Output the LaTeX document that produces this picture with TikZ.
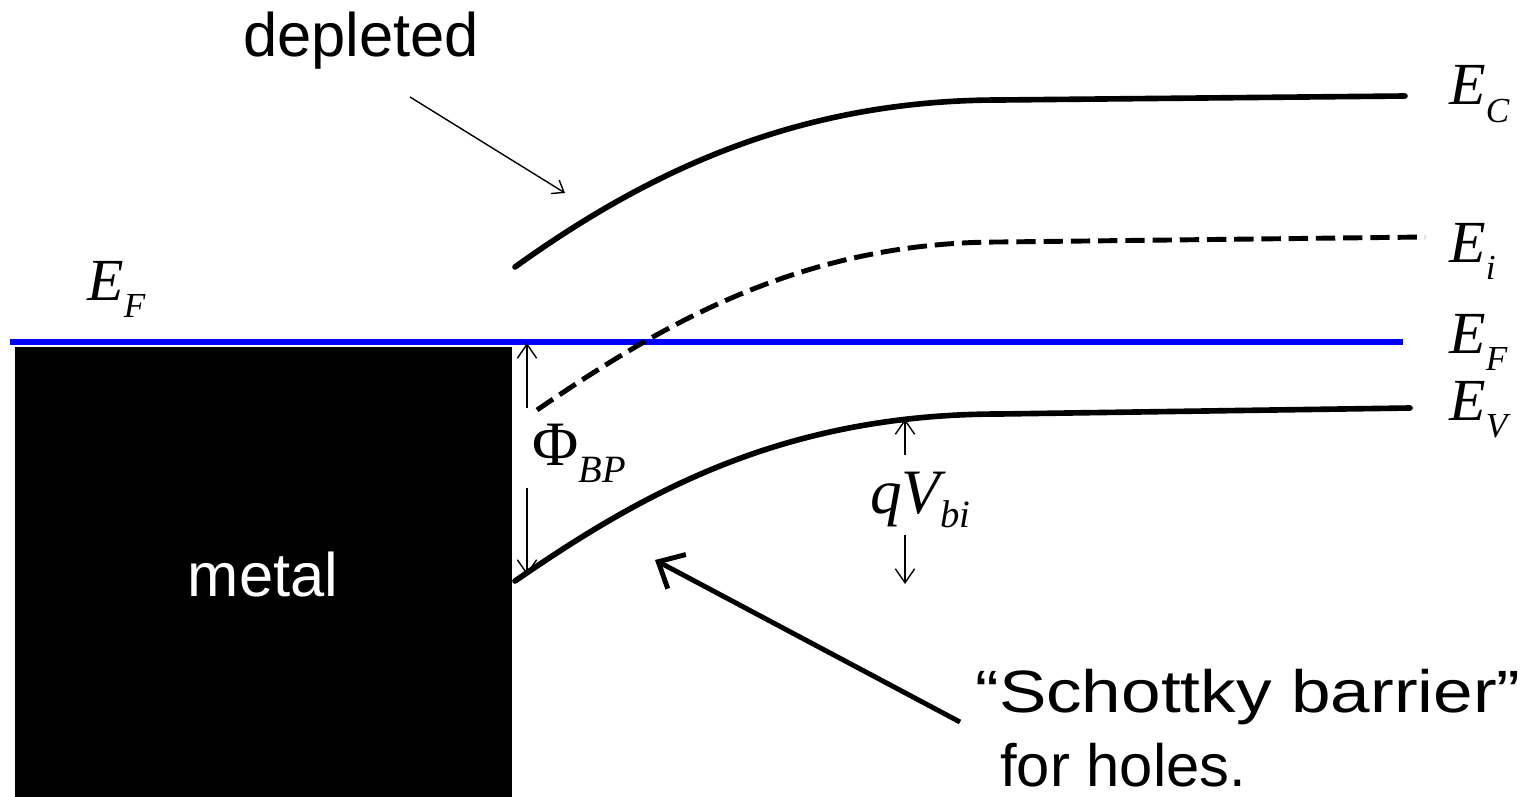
\documentclass[tikz,border=0pt]{standalone}
\usepackage{fontspec}
\usepackage{graphicx}
\setmainfont{Liberation Serif}
\newfontfamily\arialfont{Liberation Sans}
\usetikzlibrary{arrows.meta}
\newcommand{\elab}[2]{{\fontsize{34}{34}\selectfont\itshape #1\raisebox{-10pt}{\fontsize{20}{20}\selectfont #2}}}
\tikzset{
  band/.style={line width=3.2pt, line cap=round, line join=round},
  thinarrow/.style={line width=0.8pt, -{Straight Barb[length=8pt,width=11pt,line width=0.8pt]}},
  deparrow/.style={line width=0.8pt, -{Straight Barb[length=6pt,width=9pt,line width=0.8pt]}},
  thickarrow/.style={line width=2.8pt, -{Straight Barb[length=12pt,width=22pt,line width=2.8pt]}},
  sanslbl/.style={font=\arialfont\fontsize{35}{40}\selectfont, inner sep=0pt},
  schlbl/.style={font=\arialfont\fontsize{34}{40}\selectfont, inner sep=0pt},
}
\begin{document}
\begin{tikzpicture}[x=0.02cm,y=-0.02cm]
\useasboundingbox (0,0) rectangle (1520,797);
% metal
\fill[black] (15,347) rectangle (512,797);
\node[sanslbl, text=white, anchor=base] (metal) at (263,596) {metal};
% Fermi level
\draw[blue, line width=3pt] (10,342) -- (1403,342);
% bands
\draw[band] (515,267) .. controls (650,170) and (800,100) .. (1000,100) -- (1405,96);
\draw[band, line width=2.8pt, dash pattern=on 11pt off 4.5pt, line cap=butt] (537,410) .. controls (660,326) and (800,242) .. (1000,242) -- (1425,237);
\draw[band] (515,581) .. controls (640,495) and (780,414) .. (1000,414) -- (1410,408);
% labels on right
\node[anchor=base west, inner sep=0pt] (ec) at (1449,105) {\elab{E}{C}};
\node[anchor=base west, inner sep=0pt] (ei) at (1449,262) {\elab{E}{i}};
\node[anchor=base west, inner sep=0pt] (ef) at (1449,353) {\elab{E}{F}};
\node[anchor=base west, inner sep=0pt] (ev) at (1449,420) {\elab{E}{V}};
\node[anchor=base west, inner sep=0pt] (efl) at (87,300) {\elab{E}{F}};
% Phi_BP
\node[anchor=base west, inner sep=0pt] (phi) at (532,465) {\fontsize{36}{36}\selectfont Φ\raisebox{-10pt}{\fontsize{22}{22}\selectfont\itshape BP}};
\coordinate (phiTop) at (527,408);
\coordinate (phiTopTip) at (527,343);
\coordinate (phiBot) at (527,488);
\coordinate (phiBotTip) at (527,575);
\draw[thinarrow] (phiTop) -- (phiTopTip);
\draw[thinarrow] (phiBot) -- (phiBotTip);
% qVbi
\node[anchor=base west, inner sep=0pt] (qv) at (870,513) {\fontsize{36}{36}\selectfont\itshape qV\raisebox{-8pt}{\fontsize{22}{22}\selectfont bi}};
\coordinate (qvTop) at (905,455);
\coordinate (qvTopTip) at (905,419);
\coordinate (qvBot) at (905,535);
\coordinate (qvBotTip) at (905,584);
\draw[thinarrow] (qvTop) -- (qvTopTip);
\draw[thinarrow] (qvBot) -- (qvBotTip);
% depleted
\node[sanslbl, anchor=base] (dep) at (361,57) {depleted};
\coordinate (depA) at (410,97);
\coordinate (depB) at (565,193);
\draw[deparrow] (depA) -- (depB);
% Schottky
\node[schlbl, anchor=base west] (sch) at (975,712) {\scalebox{1.19}[1]{“Schottky barrier”}};
\node[schlbl, anchor=base west] (holes) at (1000,786) {for holes.};
\coordinate (schA) at (960,722);
\coordinate (schB) at (655,560);
\draw[thickarrow] (schA) -- (schB);
\end{tikzpicture}
\end{document}
